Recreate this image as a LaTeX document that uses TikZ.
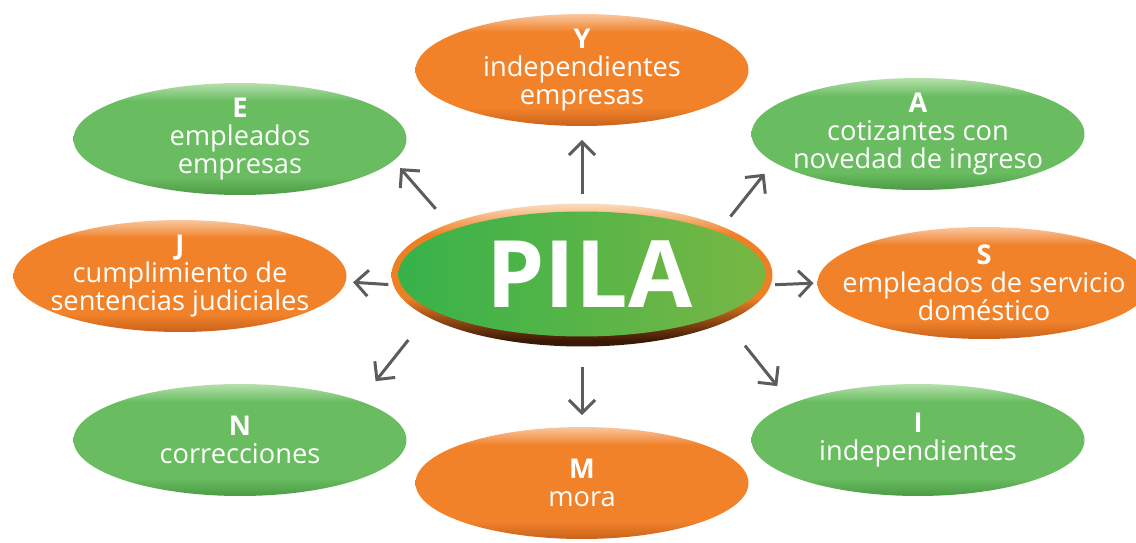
\documentclass[tikz,border=0pt]{standalone}
\usepackage{fontspec}
\setmainfont{Open Sans}
\usetikzlibrary{arrows.meta,shapes.geometric}

\definecolor{gmain}{HTML}{69BD60}
\definecolor{glight}{HTML}{B5E0AC}
\definecolor{gdark}{HTML}{4C9A45}
\definecolor{omain}{HTML}{F1822A}
\definecolor{olight}{HTML}{F9C7A0}
\definecolor{odark}{HTML}{C9621A}
\definecolor{rimlight}{HTML}{FBDCC0}
\definecolor{rimmid}{HTML}{EF7F24}
\definecolor{rimdark}{HTML}{3A1806}
\definecolor{pilaleft}{HTML}{37B24A}
\definecolor{pilaright}{HTML}{78B744}
\definecolor{arrgray}{HTML}{5C5C5C}

\pgfdeclareverticalshading{greenball}{100bp}{color(0bp)=(gdark); color(25bp)=(gdark); color(33bp)=(gmain); color(67bp)=(gmain); color(75bp)=(glight); color(100bp)=(glight)}
\pgfdeclareverticalshading{orangeball}{100bp}{color(0bp)=(odark); color(25bp)=(odark); color(33bp)=(omain); color(67bp)=(omain); color(75bp)=(olight); color(100bp)=(olight)}
\pgfdeclareverticalshading{pilarim}{100bp}{color(0bp)=(rimdark); color(27bp)=(rimdark); color(42bp)=(rimmid); color(64bp)=(rimmid); color(75bp)=(rimlight); color(100bp)=(rimlight)}

\begin{document}
\begin{tikzpicture}[x=0.02cm,y=-0.02cm,
    bubble/.style={ellipse,minimum width=6.66cm,minimum height=2.24cm,inner xsep=-1.5cm,inner ysep=-0.4cm,outer sep=0pt,
      text=white,align=center,font=\fontsize{15.5}{16}\selectfont},
    greenb/.style={bubble,shading=greenball},
    orangeb/.style={bubble,shading=orangeball}]
  \useasboundingbox (0,0) rectangle (1136,542);
			\begin{scope}
    \node[orangeb] (y) at (582,70) {\textbf{Y}\\independientes\\empresas};
    \node[greenb]  (e) at (240,139) {\textbf{E}\\empleados\\empresas};
    \node[greenb]  (a) at (918,134) {\textbf{A}\\cotizantes con\\novedad de ingreso};
    \node[orangeb] (j) at (180,276) {\textbf{J}\\cumplimiento de\\sentencias judiciales};
    \node[orangeb] (s) at (984,283) {\textbf{S}\\empleados de servicio\\doméstico};
    \node[greenb]  (n) at (240,440) {\textbf{N}\\correcciones};
    \node[orangeb] (m) at (582,483) {\textbf{M}\\mora};
    \node[greenb]  (i) at (918,440) {\textbf{I}\\independientes};
    \node[ellipse,minimum width=7.62cm,minimum height=2.86cm,inner sep=0pt,outer sep=0pt,shading=pilarim] (pila) at (582,275) {};
    \node[ellipse,minimum width=7.34cm,minimum height=2.5cm,inner sep=0pt,left color=pilaleft,right color=pilaright,
      text=white,font=\fontsize{53}{53}\selectfont\bfseries] (pilain) at (582,274) {\hspace{0.3cm}PILA};
			\end{scope}
			\begin{scope}[>={Straight Barb[length=0.26cm,width=0.52cm]},
              every edge/.style={draw=arrgray,line width=1.7pt,->}]
    \path (pila.north) edge[shorten <=0.2cm,shorten >=0.28cm] (y.south);
    \path (pila.south) edge[shorten <=0.42cm,shorten >=0.24cm] (m.north);
    \path (pila.159) edge[shorten <=0.4cm,shorten >=0.2cm] (e.-8);
    \path (pila.19) edge[shorten <=0.26cm,shorten >=0.3cm] (a.191);
    \path (pila.183) edge[shorten <=0.1cm,shorten >=0.15cm] (j.-2);
    \path (pila.-3) edge[shorten <=0.09cm,shorten >=0.08cm] (s.180);
    \path (pila.195) edge[shorten <=0.6cm,shorten >=0.51cm] (n.18);
    \path (pila.-18) edge[shorten <=0.61cm,shorten >=0.45cm] (i.164);
			\end{scope}
\end{tikzpicture}
\end{document}
